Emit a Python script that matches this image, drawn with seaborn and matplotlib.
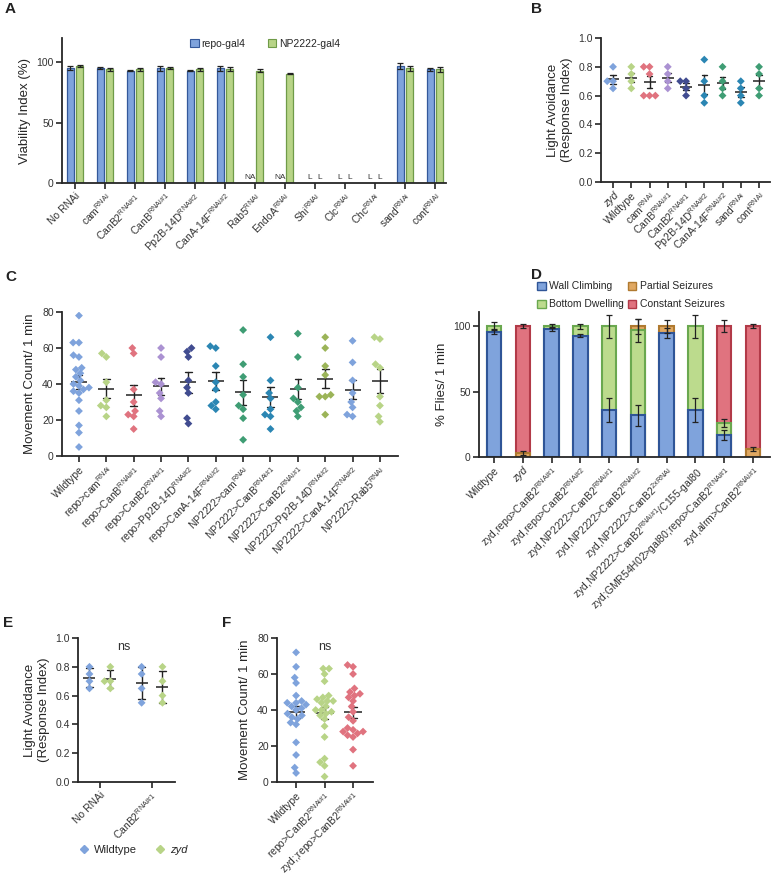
import numpy as np
import pandas as pd
import matplotlib
matplotlib.use("Agg")
import matplotlib.pyplot as plt
import seaborn as sns
from matplotlib.patches import Patch
from matplotlib.lines import Line2D

nan = np.nan

# ---------------- data ----------------
# Panel A
a_labels = ['No RNAi', r'cam$^{RNAi}$', r'CanB2$^{RNAi\#1}$', r'CanB$^{RNAi\#1}$',
            r'Pp2B-14D$^{RNAi\#2}$', r'CanA-14F$^{RNAi\#2}$', r'Rab5$^{RNAi}$',
            r'EndoA$^{RNAi}$', r'Shi$^{RNAi}$', r'Clc$^{RNAi}$', r'Chc$^{RNAi}$',
            r'sand$^{RNAi}$', r'cont$^{RNAi}$']
a_drivers = ['repo-gal4', 'NP2222-gal4']
a_repo = [95, 95, 93, 95, 93, 95, nan, nan, nan, nan, nan, 97, 94]
a_repo_err = [1.8, 0.8, 0.7, 2.0, 0.7, 2.0, nan, nan, nan, nan, nan, 2.5, 1.0]
a_np = [96.5, 94, 94, 95, 94, 94.5, 93, 90.5, nan, nan, nan, 95, 94]
a_np_err = [0.8, 1.3, 1.3, 0.8, 1.2, 1.5, 1.5, 0.6, nan, nan, nan, 2.0, 1.8]
a_note_repo = ['', '', '', '', '', '', 'NA', 'NA', 'L', 'L', 'L', '', '']
a_note_np = ['', '', '', '', '', '', '', '', 'L', 'L', 'L', '', '']

# Panel B
b_cats = ['zyd', 'Wildtype', r'cam$^{RNAi}$', r'CanB$^{RNAi\#1}$', r'CanB2$^{RNAi\#1}$',
          r'Pp2B-14D$^{RNAi\#2}$', r'CanA-14F$^{RNAi\#2}$', r'sand$^{RNAi}$', r'cont$^{RNAi}$']
b_zyd = [0.80, 0.70, 0.70, 0.65]
b_wildtype = [0.80, 0.75, 0.70, 0.65]
b_cam = [0.80, 0.80, 0.75, 0.60, 0.60, 0.60]
b_canb = [0.80, 0.75, 0.70, 0.65]
b_canb2 = [0.70, 0.70, 0.65, 0.60]
b_pp2b = [0.85, 0.70, 0.60, 0.55]
b_cana = [0.80, 0.70, 0.65, 0.60]
b_sand = [0.70, 0.65, 0.60, 0.55]
b_cont = [0.80, 0.75, 0.65, 0.60]

# Panel C
c_cats = ['Wildtype', r'repo>cam$^{RNAi}$', r'repo>CanB$^{RNAi\#1}$', r'repo>CanB2$^{RNAi\#1}$',
          r'repo>Pp2B-14D$^{RNAi\#2}$', r'repo>CanA-14F$^{RNAi\#2}$', r'NP2222>cam$^{RNAi}$',
          r'NP2222>CanB$^{RNAi\#1}$', r'NP2222>CanB2$^{RNAi\#1}$', r'NP2222>Pp2B-14D$^{RNAi\#2}$',
          r'NP2222>CanA-14F$^{RNAi\#2}$', r'NP2222>Rab5$^{RNAi}$']
c_wildtype = [78, 63, 63, 56, 55, 49, 48, 46, 44, 42, 40, 39, 38, 37, 36, 35, 31, 25, 17, 13, 5]
c_repo_cam = [57, 55, 41, 31, 28, 27, 22]
c_repo_canb = [60, 57, 37, 30, 25, 23, 22, 15]
c_repo_canb2 = [60, 55, 40, 41, 35, 32, 25, 22]
c_repo_pp2b = [60, 58, 55, 42, 38, 35, 21, 18]
c_repo_cana = [61, 60, 50, 41, 37, 30, 28, 26]
c_np_cam = [70, 51, 44, 34, 28, 26, 21, 9]
c_np_canb = [66, 42, 35, 32, 26, 23, 22, 15]
c_np_canb2 = [68, 55, 38, 32, 27, 30, 25, 22]
c_np_pp2b = [66, 60, 50, 45, 34, 33, 33, 23]
c_np_cana = [64, 52, 42, 35, 27, 30, 22, 23]
c_np_rab5 = [65, 66, 51, 49, 33, 28, 22, 19]

# Panel D
d_cats = ['Wildtype', 'zyd', r'zyd,repo>CanB2$^{RNAi\#1}$', r'zyd,repo>CanB2$^{RNAi\#2}$',
          r'zyd,NP2222>CanB2$^{RNAi\#1}$', r'zyd,NP2222>CanB2$^{RNAi\#2}$',
          r'zyd,NP2222>CanB2$^{2xRNAi}$', r'zyd,NP2222>CanB2$^{RNAi\#1}$/C155-gal80',
          r'zyd;GMR54H02>gal80;repo>CanB2$^{RNAi\#1}$', r'zyd,alrm>CanB2$^{RNAi\#1}$']
d_series = ['Wall Climbing', 'Bottom Dwelling', 'Partial Seizures', 'Constant Seizures']
d_wall = [96, 0, 98, 93, 36, 32, 95, 36, 17, 0]
d_bottom = [4, 0, 2, 7, 64, 65, 0, 64, 9, 0]
d_partial = [0, 3, 0, 0, 0, 3, 5, 0, 0, 6]
d_constant = [0, 97, 0, 0, 0, 0, 0, 0, 74, 94]
d_wall_err = [2, 0, 1.5, 1.5, 9, 8, 4, 9, 4, 0]
d_bottom_err = [3, 0, 1.5, 2, 9, 9, 0, 9, 3, 0]
d_partial_err = [0, 1.5, 0, 0, 0, 6, 5, 0, 0, 1.5]
d_constant_err = [0, 1.5, 0, 0, 0, 0, 0, 0, 4.5, 1.5]

# Panel E
e_cats = ['No RNAi', r'CanB2$^{RNAi\#1}$']
e_genos = ['Wildtype', 'zyd']
e_norna_wt = [0.80, 0.75, 0.70, 0.65]
e_norna_zyd = [0.80, 0.70, 0.70, 0.65]
e_canb2_wt = [0.80, 0.75, 0.65, 0.55]
e_canb2_zyd = [0.80, 0.70, 0.60, 0.55]

# Panel F
f_cats = ['Wildtype', r'repo>CanB2$^{RNAi\#1}$', r'zyd;;repo>CanB2$^{RNAi\#1}$']
f_wildtype = [72, 64, 58, 55, 48, 45, 44, 44, 43, 42, 41, 40, 38, 37, 36, 35, 33, 32, 22, 15, 8, 5]
f_repo = [63, 63, 60, 56, 48, 47, 46, 45, 45, 44, 42, 40, 40, 39, 38, 37, 35, 31, 25, 13, 11, 9, 3]
f_zyd_repo = [65, 64, 60, 52, 50, 49, 48, 47, 45, 42, 39, 36, 34, 30, 29, 28, 28, 27, 26, 25, 18, 9]

# ---------------- style ----------------
sns.set_theme(style='ticks')
plt.rcParams['font.family'] = ['Liberation Sans', 'DejaVu Sans']
plt.rcParams['mathtext.default'] = 'regular'
plt.rcParams['axes.linewidth'] = 1.3
plt.rcParams['axes.edgecolor'] = '#262626'
plt.rcParams['xtick.color'] = '#262626'
plt.rcParams['ytick.color'] = '#262626'
plt.rcParams['xtick.labelcolor'] = '#333333'
plt.rcParams['ytick.labelcolor'] = '#333333'

BLUE = '#7fa3dc'
GREEN = '#b8d487'
RED = '#e0737f'
PURPLE = '#ab92d2'
NAVY = '#414c90'
TEAL = '#2b86b3'
DGREEN = '#3f9d74'
OLIVE = '#9bb458'
ORANGE = '#e0a862'

W, H = 774, 882
fig = plt.figure(figsize=(W / 100, H / 100), dpi=100)


def rect(l, t, r, b):
    return [l / W, 1 - b / H, (r - l) / W, (b - t) / H]


TICK_FS = 7.5
LAB_FS = 9.5
PT = 4.0


def style_axes(ax, labels, xlim, italic=()):
    sns.despine(ax=ax)
    ax.set_xticks(range(len(labels)))
    ax.set_xticklabels(labels, rotation=45, ha='right', rotation_mode='anchor', fontsize=TICK_FS)
    for t in ax.get_xticklabels():
        if t.get_text() in italic:
            t.set_fontstyle('italic')
    ax.tick_params(axis='both', direction='out', length=4, width=1.2, labelsize=TICK_FS, pad=2)
    ax.set_xlim(*xlim)
    ax.set_xlabel('')


def long_df(cats, lists):
    rows = []
    for c, vals in zip(cats, lists):
        for v in vals:
            rows.append((c, v))
    return pd.DataFrame(rows, columns=['cat', 'val'])


def scatter_mean(ax, df, cats, colors, capsize, lw_mean=9):
    sns.swarmplot(data=df, x='cat', y='val', hue='cat', order=cats, hue_order=cats,
                  palette=colors, marker='D', size=PT, linewidth=0, legend=False, ax=ax)
    sns.pointplot(data=df, x='cat', y='val', order=cats, errorbar='se', color='#222222',
                  marker='_', markersize=lw_mean, markeredgewidth=1.1, linestyle='none',
                  capsize=capsize, err_kws={'linewidth': 1.0}, ax=ax)


# ---------------- Panel A ----------------
axA = fig.add_axes(rect(62, 38, 446, 183))
df_a = pd.DataFrame({'cat': a_labels * 2,
                     'driver': [a_drivers[0]] * len(a_labels) + [a_drivers[1]] * len(a_labels),
                     'val': a_repo + a_np})
sns.barplot(data=df_a, x='cat', y='val', hue='driver', order=a_labels, hue_order=a_drivers,
            palette=[BLUE, GREEN], width=0.62, gap=0.2, errorbar=None, linewidth=0.9,
            saturation=1, ax=axA)
for cont, ec in zip(axA.containers, ['#34589a', '#6f9b48']):
    for p in cont:
        p.set_edgecolor(ec)
xa = np.arange(len(a_labels))
axA.errorbar(xa - 0.155, a_repo, yerr=a_repo_err, fmt='none', ecolor='#222222',
             elinewidth=0.9, capsize=2.2, capthick=0.9)
axA.errorbar(xa + 0.155, a_np, yerr=a_np_err, fmt='none', ecolor='#222222',
             elinewidth=0.9, capsize=2.2, capthick=0.9)
for i, (n1, n2) in enumerate(zip(a_note_repo, a_note_np)):
    if n1:
        axA.text(i - 0.17, 1.5, n1, ha='center', va='bottom', fontsize=6, color='#333333')
    if n2:
        axA.text(i + 0.17, 1.5, n2, ha='center', va='bottom', fontsize=6, color='#333333')
axA.set_ylim(0, 120)
axA.set_yticks([0, 50, 100])
axA.set_ylabel('Viability Index (%)', fontsize=LAB_FS)
style_axes(axA, a_labels, (-0.43, 12.37))
hA = [Patch(facecolor=BLUE, edgecolor='#34589a', linewidth=0.8),
      Patch(facecolor=GREEN, edgecolor='#6f9b48', linewidth=0.8)]
axA.legend(hA, a_drivers, loc='upper left', bbox_to_anchor=(0.31, 1.06), ncol=2, frameon=False,
           fontsize=7.5, handlelength=0.8, handleheight=0.8, handletextpad=0.25, columnspacing=2.2)

# ---------------- Panel B ----------------
axB = fig.add_axes(rect(601, 38, 770, 182))
df_b = long_df(b_cats, [b_zyd, b_wildtype, b_cam, b_canb, b_canb2, b_pp2b, b_cana, b_sand, b_cont])
b_colors = [BLUE, GREEN, RED, PURPLE, NAVY, TEAL, DGREEN, TEAL, DGREEN]
scatter_mean(axB, df_b, b_cats, b_colors, 0.3, lw_mean=9)
axB.set_ylim(0, 1.0)
axB.set_yticks(np.arange(0, 1.01, 0.2))
axB.set_yticklabels([f'{v:.1f}' for v in np.arange(0, 1.01, 0.2)])
axB.set_ylabel('Light Avoidance\n(Response Index)', fontsize=LAB_FS)
style_axes(axB, b_cats, (-0.66, 8.6), italic=('zyd',))

# ---------------- Panel C ----------------
axC = fig.add_axes(rect(62, 312, 398, 456))
df_c = long_df(c_cats, [c_wildtype, c_repo_cam, c_repo_canb, c_repo_canb2, c_repo_pp2b,
                        c_repo_cana, c_np_cam, c_np_canb, c_np_canb2, c_np_pp2b, c_np_cana,
                        c_np_rab5])
c_colors = [BLUE, GREEN, RED, PURPLE, NAVY, TEAL, DGREEN, TEAL, DGREEN, OLIVE, BLUE, GREEN]
scatter_mean(axC, df_c, c_cats, c_colors, 0.24, lw_mean=12)
axC.set_ylim(0, 80)
axC.set_yticks([0, 20, 40, 60, 80])
axC.set_ylabel('Movement Count/ 1 min', fontsize=LAB_FS)
style_axes(axC, c_cats, (-0.62, 11.66))

# ---------------- Panel D ----------------
axD = fig.add_axes(rect(479, 312, 770, 457))
segs = [d_wall, d_bottom, d_partial, d_constant]
errs = [d_wall_err, d_bottom_err, d_partial_err, d_constant_err]
fills = [BLUE, '#bcdb8d', ORANGE, RED]
edges = ['#2f5597', '#6aa84f', '#b07a30', '#b23a48']
cum = np.cumsum(np.array(segs, dtype=float), axis=0)
for k in range(3, -1, -1):
    heights = [cum[k][i] if segs[k][i] > 0 else nan for i in range(len(d_cats))]
    sns.barplot(x=d_cats, y=heights, order=d_cats, color=fills[k], saturation=1, width=0.5,
                edgecolor=edges[k], linewidth=1.5, errorbar=None, ax=axD)
xd = np.arange(len(d_cats))
for k in range(4):
    m = np.array(errs[k]) > 0
    axD.errorbar(xd[m], cum[k][m], yerr=np.array(errs[k])[m], fmt='none', ecolor='#222222',
                 elinewidth=0.9, capsize=2.2, capthick=0.9, zorder=5)
axD.set_ylim(0, 111)
axD.set_yticks([0, 50, 100])
axD.set_ylabel('% Flies/ 1 min', fontsize=LAB_FS)
style_axes(axD, d_cats, (-0.52, 9.59), italic=('zyd',))
hD = [Patch(facecolor=fills[k], edgecolor=edges[k], linewidth=1.0) for k in range(4)]
fig.legend([hD[0], hD[1], hD[2], hD[3]], d_series, loc='upper left',
           bbox_to_anchor=(528 / W, 1 - 272 / H), ncol=2, frameon=False, fontsize=7.5,
           handlelength=0.8, handleheight=0.8, handletextpad=0.35, columnspacing=0.35,
           labelspacing=0.75)

# ---------------- Panel E ----------------
axE = fig.add_axes(rect(78, 638, 175, 782))
rows = []
for c, g, vals in [(e_cats[0], e_genos[0], e_norna_wt), (e_cats[0], e_genos[1], e_norna_zyd),
                   (e_cats[1], e_genos[0], e_canb2_wt), (e_cats[1], e_genos[1], e_canb2_zyd)]:
    for v in vals:
        rows.append((c, g, v))
df_e = pd.DataFrame(rows, columns=['cat', 'geno', 'val'])
sns.swarmplot(data=df_e, x='cat', y='val', hue='geno', order=e_cats, hue_order=e_genos,
              palette=[BLUE, GREEN], dodge=True, marker='D', size=PT, linewidth=0,
              legend=False, ax=axE)
sns.pointplot(data=df_e, x='cat', y='val', hue='geno', order=e_cats, hue_order=e_genos,
              palette=['#222222', '#222222'], dodge=0.4, errorbar='sd', marker='_',
              markersize=9, markeredgewidth=1.1, linestyle='none', capsize=0.12,
              err_kws={'linewidth': 1.0}, legend=False, ax=axE)
axE.set_ylim(0, 1.0)
axE.set_yticks(np.arange(0, 1.01, 0.2))
axE.set_yticklabels([f'{v:.1f}' for v in np.arange(0, 1.01, 0.2)])
axE.set_ylabel('Light Avoidance\n(Response Index)', fontsize=LAB_FS)
style_axes(axE, e_cats, (-0.42, 1.44))
axE.text(0.47, 0.98, 'ns', transform=axE.transAxes, ha='center', va='top', fontsize=9,
         color='#333333')
hE = [Line2D([], [], marker='D', linestyle='none', color=BLUE, markersize=4),
      Line2D([], [], marker='D', linestyle='none', color=GREEN, markersize=4)]
legE = fig.legend(hE, e_genos, loc='center left', bbox_to_anchor=(68 / W, 1 - 850 / H),
                  ncol=2, frameon=False, fontsize=8, handlelength=1.0, handletextpad=0.4,
                  columnspacing=1.6)
for t in legE.get_texts():
    if t.get_text() == 'zyd':
        t.set_fontstyle('italic')

# ---------------- Panel F ----------------
axF = fig.add_axes(rect(277, 638, 373, 782))
df_f = long_df(f_cats, [f_wildtype, f_repo, f_zyd_repo])
scatter_mean(axF, df_f, f_cats, [BLUE, GREEN, RED], 0.25, lw_mean=13)
axF.set_ylim(0, 80)
axF.set_yticks([0, 20, 40, 60, 80])
axF.set_ylabel('Movement Count/ 1 min', fontsize=LAB_FS)
style_axes(axF, f_cats, (-0.67, 2.7))
axF.text(0.5, 0.98, 'ns', transform=axF.transAxes, ha='center', va='top', fontsize=9,
         color='#333333')

# ---------------- panel letters ----------------
for letter, x, y in [('A', 5, 2), ('B', 531, 2), ('C', 5, 270), ('D', 531, 268),
                     ('E', 3, 616), ('F', 222, 616)]:
    fig.text(x / W, 1 - y / H, letter, fontsize=11, fontweight='bold', va='top', ha='left',
             color='#222222')

fig.savefig('out.png', dpi=100)
